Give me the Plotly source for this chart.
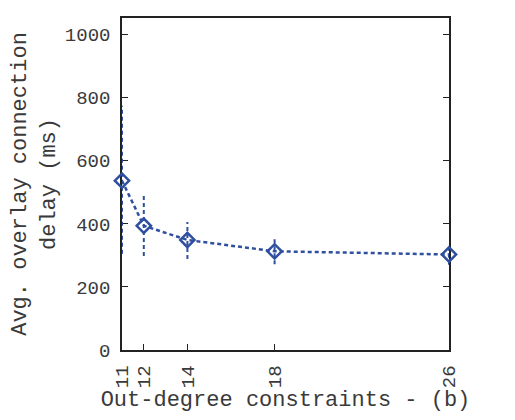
import plotly.graph_objects as go

# out-degree constraint (b) vs average overlay connection delay
degree = [11, 12, 14, 18, 26]
delay = [537, 394, 349, 313, 303]
delay_lo = [305, 298, 289, 272, 270]
delay_hi = [775, 492, 406, 358, 336]

blue = '#2f4f9f'
font = 'Liberation Mono, Courier New, monospace'

fig = go.Figure()

# dashed error bars, drawn as vertical segments
ex, ey = [], []
for x, lo, hi in zip(degree, delay_lo, delay_hi):
    ex += [x, x, None]
    ey += [lo, hi, None]
fig.add_trace(go.Scatter(x=ex, y=ey, mode='lines', showlegend=False,
                         line=dict(color=blue, width=2, dash='4px,3px'),
                         cliponaxis=False))

fig.add_trace(go.Scatter(x=degree, y=delay, mode='lines+markers', showlegend=False,
                         line=dict(color=blue, width=2.5, dash='4px,3px'),
                         marker=dict(symbol='diamond-open', size=11, color=blue,
                                     line=dict(width=2.5, color=blue)),
                         cliponaxis=False))

fig.update_xaxes(range=[11, 26], tickvals=degree, ticktext=[str(d) for d in degree],
                 tickangle=-90, ticks='inside', ticklen=6, tickcolor='#222',
                 showline=True, linecolor='#222', linewidth=1.5, mirror=True,
                 showgrid=False, zeroline=False, ticklabelstandoff=6,
                 layer='below traces', automargin=False,
                 tickfont=dict(family=font, size=19, color='#3a3a3a'),
                 title=dict(text='Out-degree constraints - (b)', standoff=0,
                            font=dict(family=font, size=22, color='#3a3a3a')))
fig.update_yaxes(range=[0, 1053], tickvals=[0, 200, 400, 600, 800, 1000],
                 ticks='inside', ticklen=6, tickcolor='#222',
                 showline=True, linecolor='#222', linewidth=1.5, mirror='ticks',
                 showgrid=False, zeroline=False, ticklabelstandoff=6,
                 layer='below traces', automargin=False,
                 tickfont=dict(family=font, size=19, color='#3a3a3a'),
                 title=dict(text='Avg. overlay connection<br>delay (ms)', standoff=8,
                            font=dict(family=font, size=22, color='#3a3a3a')))

fig.update_layout(width=507, height=412, autosize=False,
                  plot_bgcolor='white', paper_bgcolor='white',
                  margin=dict(l=114, r=66, t=10, b=70, pad=0))

fig.write_html("out.html")
